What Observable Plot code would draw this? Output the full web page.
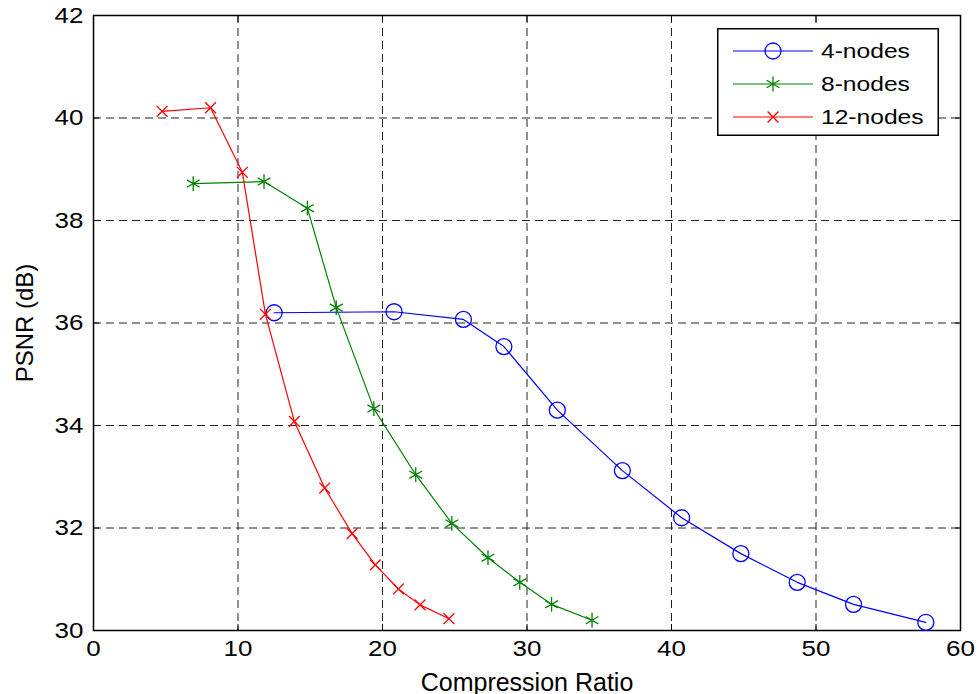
<!DOCTYPE html>
<html><head><meta charset="utf-8">
<script src="https://cdn.jsdelivr.net/npm/d3@7"></script>
<script src="https://cdn.jsdelivr.net/npm/@observablehq/plot@0.6"></script>
<style>
body{margin:0;background:#fff;}
#chart{position:relative;width:979px;height:694px;overflow:hidden;}
#legend{position:absolute;left:717px;top:28px;}
</style></head><body><div id="chart"></div>
<script>
const seriesNames = ["4-nodes", "8-nodes", "12-nodes"];
const seriesColors = ["#0000ff", "#008000", "#ff0000"];
const seriesSymbols = ["circle", "asterisk", "times"];

const x4 = [12.5, 20.8, 25.6, 28.4, 32.1, 36.6, 40.7, 44.8, 48.7, 52.6, 57.6];
const y4 = [36.20, 36.22, 36.07, 35.54, 34.30, 33.12, 32.20, 31.50, 30.94, 30.51, 30.16];

const x8 = [6.9, 11.8, 14.8, 16.8, 19.4, 22.3, 24.8, 27.3, 29.5, 31.7, 34.5];
const y8 = [38.72, 38.76, 38.24, 36.30, 34.33, 33.04, 32.09, 31.42, 30.94, 30.51, 30.20];

const x12 = [4.75, 8.1, 10.3, 11.9, 13.9, 16.0, 17.9, 19.5, 21.1, 22.6, 24.6];
const y12 = [40.13, 40.20, 38.94, 36.17, 34.08, 32.78, 31.89, 31.28, 30.81, 30.50, 30.23];

const xTicks = [0, 10, 20, 30, 40, 50, 60];
const yTicks = [30, 32, 34, 36, 38, 40, 42];

const xsAll = [x4, x8, x12];
const ysAll = [y4, y8, y12];
const data = [];
seriesNames.forEach((s, i) => xsAll[i].forEach((x, j) => data.push({series: s, x, y: ysAll[i][j]})));

const font = '"Liberation Sans", Arial, sans-serif';
const symSize = {"4-nodes": 8, "8-nodes": 7, "12-nodes": 5};
const fmt = d3.format("d");

const marks = [
  Plot.gridX(xTicks, {stroke: "#222", strokeOpacity: 1, strokeDasharray: "8,5"}),
  Plot.gridY(yTicks, {stroke: "#222", strokeOpacity: 1, strokeDasharray: "8,5"}),
  Plot.axisX(xTicks, {anchor: "bottom", tickSize: -6, tickPadding: 16, fontSize: 22, tickFormat: fmt, label: "Compression Ratio", labelAnchor: "center", labelArrow: "none", labelOffset: 60}),
  Plot.axisX(xTicks, {anchor: "top", tickSize: -6, tickFormat: () => "", label: null}),
  Plot.axisY(yTicks, {anchor: "left", tickSize: -6, tickPadding: 16, fontSize: 22, tickFormat: fmt, label: "PSNR (dB)", labelAnchor: "center", labelArrow: "none", labelOffset: 78}),
  Plot.axisY(yTicks, {anchor: "right", tickSize: -6, tickFormat: () => "", label: null}),
  Plot.frame({stroke: "#000", strokeWidth: 1.5})
];
seriesNames.forEach((s, i) => {
  const d = data.filter(e => e.series === s);
  marks.push(Plot.line(d, {x: "x", y: "y", stroke: seriesColors[i], strokeWidth: 1.2}));
  marks.push(Plot.dot(d, {x: "x", y: "y", stroke: seriesColors[i], symbol: seriesSymbols[i], r: symSize[s], strokeWidth: 1.3, fill: "none"}));
});

const chart = Plot.plot({
  width: 979,
  height: 694,
  marginLeft: 93,
  marginRight: 19,
  marginTop: 15,
  marginBottom: 64,
  style: {fontFamily: font, fontSize: "22px", color: "#000", background: "#fff", overflow: "visible"},
  x: {domain: [0, 60], ticks: xTicks},
  y: {domain: [30, 42], ticks: yTicks},
  marks
});
const container = document.getElementById("chart");
container.appendChild(chart);

// legend
const lw = 222, lh = 108;
const leg = d3.select(container).append("svg").attr("id", "legend").attr("width", lw).attr("height", lh);
leg.append("rect").attr("x", 0.75).attr("y", 0.75).attr("width", lw - 1.5).attr("height", lh - 1.5)
  .attr("fill", "#fff").attr("stroke", "#000").attr("stroke-width", 1.5);
const symMap = {circle: d3.symbolCircle, asterisk: d3.symbolAsterisk, times: d3.symbolTimes};
seriesNames.forEach((s, i) => {
  const cy = 23 + i * 33;
  const g = leg.append("g");
  g.append("line").attr("x1", 16).attr("x2", 96).attr("y1", cy).attr("y2", cy).attr("stroke", seriesColors[i]).attr("stroke-width", 1.2);
  const r = symSize[s];
  g.append("path").attr("transform", `translate(56,${cy})`)
    .attr("d", d3.symbol(symMap[seriesSymbols[i]], Math.PI * r * r)())
    .attr("fill", "none").attr("stroke", seriesColors[i]).attr("stroke-width", 1.3);
  g.append("text").attr("x", 104).attr("y", cy).attr("dy", "0.36em")
    .attr("font-family", font).attr("font-size", 20.5).text(s);
});

// axis titles a bit larger, as in the original
container.querySelectorAll('g[aria-label="x-axis label"] text').forEach(t => t.setAttribute("font-size", 25));
container.querySelectorAll('g[aria-label="y-axis label"] text').forEach(t => t.setAttribute("font-size", 24));

// mimic the horizontally stretched lettering of the original
function stretch(sel, k) {
  sel.forEach(t => {
    if (!t.textContent) return;
    const tr = t.getAttribute("transform") || "";
    if (tr.includes("rotate")) return;
    const w = t.getComputedTextLength();
    if (w > 0) { t.setAttribute("textLength", w * k); t.setAttribute("lengthAdjust", "spacingAndGlyphs"); }
  });
}
stretch(Array.from(container.querySelectorAll('g[aria-label="x-axis tick label"] text, g[aria-label="y-axis tick label"] text')), 1.18);
stretch(Array.from(container.querySelectorAll('#legend text')), 1.2);
</script></body></html>
